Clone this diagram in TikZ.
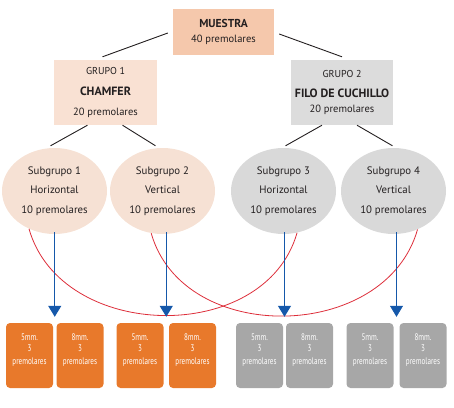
\documentclass[tikz,border=0pt]{standalone}
\usepackage{fontspec}
\setmainfont{PT Sans}
\newfontfamily\estrecha[FakeStretch=0.75]{PT Sans}
\usetikzlibrary{arrows.meta,shapes.geometric,calc}

\definecolor{salmon}{HTML}{F5C8AC}
\definecolor{crema}{HTML}{F9E1D3}
\definecolor{cremaB}{HTML}{F6E1D4}
\definecolor{gris}{HTML}{DCDCDC}
\definecolor{grisB}{HTML}{D9D9D9}
\definecolor{grisC}{HTML}{A7A7A7}
\definecolor{naranja}{HTML}{E8792B}
\definecolor{azul}{HTML}{1558AA}
\definecolor{rojo}{HTML}{DD2E3A}
\definecolor{texto}{HTML}{231F20}

\begin{document}
\begin{tikzpicture}[x=1pt,y=-1pt,
        caja/.style={rectangle,inner sep=0pt,align=center,text=texto},
        sub/.style={ellipse,minimum width=105pt,minimum height=86pt,inner sep=0pt,
            align=center,text=texto,font=\fontsize{10.8}{19.5}\selectfont},
        rama/.style={texto,line width=0.9pt},
        baja/.style={azul,line width=1.2pt,-{Triangle[width=13pt,length=11pt]},shorten >=6pt},
        cruce/.style={rojo,line width=0.8pt},
        mm/.style={rectangle,rounded corners=4pt,minimum width=47pt,minimum height=65pt,
            inner sep=0pt,align=center,text=white,text depth=13pt,
            font=\estrecha\fontsize{9.5}{11}\selectfont},
    ]
        \useasboundingbox (0,0) rectangle (454,407);

        % top and the two groups
        \node[caja,fill=salmon,minimum width=101pt,minimum height=46pt,
            font=\fontsize{10.5}{15}\selectfont] (muestra) at (223.5,32)
            {{\fontsize{11.5}{15}\selectfont\bfseries MUESTRA}\\40 premolares};
        \node[caja,fill=crema,minimum width=103pt,minimum height=65pt,
            font=\fontsize{10.5}{20.5}\selectfont] (grupoA) at (105.5,92.5)
            {{\fontsize{10}{20.5}\selectfont GRUPO 1}\\{\fontsize{12}{20.5}\selectfont\bfseries CHAMFER}\\20 premolares};
        \node[caja,fill=gris,minimum width=102pt,minimum height=65pt,
            font=\fontsize{10.5}{18.5}\selectfont] (grupoB) at (342,92.5)
            {{\fontsize{10}{18.5}\selectfont GRUPO 2}\\[1pt]{\fontsize{12}{18.5}\selectfont\bfseries FILO DE CUCHILLO}\\[-3pt]20 premolares};

        \draw[rama] ([shift={(-5,1)}]muestra.west) -- ([shift={(-3,-3)}]grupoA.north);
        \draw[rama] ([shift={(5,2)}]muestra.east) -- ([shift={(0,-3)}]grupoB.north);

        % subgroups
        \node[sub,fill=cremaB] (subA) at (54.5,191) {Subgrupo 1\\Horizontal\\10 premolares};
        \node[sub,fill=cremaB] (subB) at (162.5,191) {Subgrupo 2\\Vertical\\10 premolares};
        \node[sub,fill=grisB] (subC) at (283.5,191) {Subgrupo 3\\Horizontal\\10 premolares};
        \node[sub,fill=grisB] (subD) at (393.5,191) {Subgrupo 4\\Vertical\\10 premolares};

        \draw[rama] ([xshift=-18]grupoA.south) -- ([shift={(-4,-2)}]subA.north);
        \draw[rama] ([xshift=17]grupoA.south) -- ([shift={(-7,-2)}]subB.north);
        \draw[rama] ([xshift=-20]grupoB.south) -- ([shift={(2,-2)}]subC.north);
        \draw[rama] ([xshift=15]grupoB.south) -- ([shift={(-1,-2)}]subD.north);

        % bottom boxes
        \foreach \x/\n/\c/\t in {29.5/1/naranja/5, 80/2/naranja/8, 140/3/naranja/5, 192.5/4/naranja/8,
                259.5/5/grisC/5, 309.5/6/grisC/8, 370/7/grisC/5, 423/8/grisC/8} {
            \node[mm,fill=\c] (b\n) at (\x,355.5)
                {\t mm.\\3\\[2pt]premolares};
        }

        % arrow targets between the boxes
        \coordinate (t1) at ($(b1.north east)!.5!(b2.north west)$);
        \coordinate (t2) at ($(b3.north east)!.5!(b4.north west)$);
        \coordinate (t3) at ($(b5.north east)!.5!(b6.north west)$);
        \coordinate (t4) at ($(b7.north east)!.5!(b8.north west)$);

        \draw[cruce] (subA.236) .. controls +(32,113) and +(-32,113) .. (subC.288);
        \draw[cruce] (subB.255) .. controls +(32,113) and +(-32,113) .. (subD.302);

        \draw[baja] ([yshift=2]subA.south -| t1) -- (t1);
        \draw[baja] ([yshift=2]subB.south -| t2) -- (t2);
        \draw[baja] ([yshift=2]subC.south -| t3) -- (t3);
        \draw[baja,line width=0.8pt] ([yshift=2]subD.south -| t4) -- (t4);

    \end{tikzpicture}
\end{document}
